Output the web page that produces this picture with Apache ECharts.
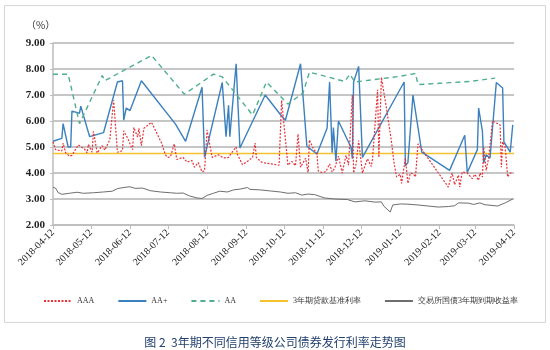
<!DOCTYPE html>
<html>
<head>
<meta charset="utf-8">
<script src="https://cdn.jsdelivr.net/npm/echarts@6/dist/echarts.min.js"></script>
<style>
html, body { margin: 0; padding: 0; background: #fff; }
#chart { width: 550px; height: 350px; }
</style>
</head>
<body>
<div id="chart"></div>
<script>
// Monthly tick dates on the x axis
const tickDates = ['2018-04-12', '2018-05-12', '2018-06-12', '2018-07-12', '2018-08-12', '2018-09-12',
  '2018-10-12', '2018-11-12', '2018-12-12', '2019-01-12', '2019-02-12', '2019-03-12', '2019-04-12'];

// Y axis range (%)
const yMin = 2, yMax = 9, yStep = 1;

// AAA issuance rate (%)
const rateAAA = [
  ['2018-04-12', 5.20], ['2018-04-14', 4.90], ['2018-04-19', 4.85], ['2018-04-20', 5.15], ['2018-04-22', 4.78],
  ['2018-04-25', 4.65], ['2018-04-27', 4.68], ['2018-05-02', 5.08], ['2018-05-07', 4.92], ['2018-05-09', 4.77],
  ['2018-05-10', 5.10], ['2018-05-13', 4.80], ['2018-05-14', 5.60], ['2018-05-17', 4.77], ['2018-05-21', 5.05],
  ['2018-05-23', 4.88], ['2018-05-27', 5.28], ['2018-05-30', 6.80], ['2018-06-02', 4.80], ['2018-06-06', 4.86],
  ['2018-06-07', 5.62], ['2018-06-10', 5.35], ['2018-06-13', 5.00], ['2018-06-14', 4.90], ['2018-06-15', 5.75],
  ['2018-06-18', 5.38], ['2018-06-19', 5.72], ['2018-06-21', 5.05], ['2018-06-23', 5.72], ['2018-06-29', 5.95],
  ['2018-07-03', 5.55], ['2018-07-07', 5.15], ['2018-07-10', 4.70], ['2018-07-12', 4.60], ['2018-07-14', 4.62],
  ['2018-07-17', 5.12], ['2018-07-19', 4.52], ['2018-07-24', 4.60], ['2018-07-27', 4.42], ['2018-07-31', 4.48],
  ['2018-08-02', 4.22], ['2018-08-05', 4.40], ['2018-08-08', 4.05], ['2018-08-10', 4.08], ['2018-08-12', 5.65],
  ['2018-08-16', 4.60], ['2018-08-21', 4.70], ['2018-08-25', 4.58], ['2018-08-29', 4.60], ['2018-08-31', 4.75],
  ['2018-09-04', 5.00], ['2018-09-05', 4.72], ['2018-09-09', 4.32], ['2018-09-13', 4.45], ['2018-09-17', 4.60],
  ['2018-09-19', 5.15], ['2018-09-20', 4.60], ['2018-09-24', 4.42], ['2018-09-27', 4.38], ['2018-10-02', 4.35],
  ['2018-10-08', 4.30], ['2018-10-10', 6.80], ['2018-10-15', 4.30], ['2018-10-18', 4.45], ['2018-10-21', 4.28],
  ['2018-10-23', 5.50], ['2018-10-25', 4.22], ['2018-10-29', 4.57], ['2018-10-31', 4.02], ['2018-11-01', 5.27],
  ['2018-11-04', 4.95], ['2018-11-07', 4.75], ['2018-11-08', 4.08], ['2018-11-11', 4.02], ['2018-11-14', 4.05],
  ['2018-11-17', 4.35], ['2018-11-19', 4.04], ['2018-11-21', 4.18], ['2018-11-24', 4.65], ['2018-11-27', 4.00],
  ['2018-11-30', 4.68], ['2018-12-02', 4.30], ['2018-12-05', 7.00], ['2018-12-06', 4.00], ['2018-12-08', 4.35],
  ['2018-12-10', 5.25], ['2018-12-13', 4.00], ['2018-12-17', 4.55], ['2018-12-20', 4.25], ['2018-12-21', 4.55],
  ['2018-12-25', 7.20], ['2018-12-26', 4.60], ['2018-12-28', 7.68], ['2019-01-01', 6.50], ['2019-01-05', 5.20],
  ['2019-01-07', 4.40], ['2019-01-09', 3.85], ['2019-01-12', 3.95], ['2019-01-13', 3.60], ['2019-01-16', 4.57],
  ['2019-01-18', 3.60], ['2019-01-20', 4.00], ['2019-01-22', 3.98], ['2019-01-24', 3.85], ['2019-01-26', 5.12],
  ['2019-02-01', 4.70], ['2019-02-19', 3.46], ['2019-02-22', 4.00], ['2019-02-24', 3.55], ['2019-02-27', 3.92],
  ['2019-02-28', 3.46], ['2019-03-02', 4.04], ['2019-03-06', 4.00], ['2019-03-07', 4.05], ['2019-03-10', 3.78],
  ['2019-03-12', 3.95], ['2019-03-15', 3.72], ['2019-03-16', 4.00], ['2019-03-18', 3.85], ['2019-03-19', 5.00],
  ['2019-03-21', 4.10], ['2019-03-23', 4.60], ['2019-03-26', 6.00], ['2019-03-28', 5.95], ['2019-04-01', 5.85],
  ['2019-04-02', 4.22], ['2019-04-03', 5.20], ['2019-04-05', 5.00], ['2019-04-07', 3.85], ['2019-04-09', 4.00],
  ['2019-04-11', 4.00]
];

// AA+ issuance rate (%)
const rateAAplus = [
  ['2018-04-12', 5.22], ['2018-04-19', 5.33], ['2018-04-20', 5.90], ['2018-04-24', 5.00], ['2018-04-26', 5.00],
  ['2018-04-27', 6.38], ['2018-05-03', 6.30], ['2018-05-04', 6.57], ['2018-05-11', 5.40], ['2018-05-22', 5.55],
  ['2018-06-02', 7.50], ['2018-06-06', 7.55], ['2018-06-07', 6.03], ['2018-06-09', 6.50], ['2018-06-12', 6.40],
  ['2018-06-21', 7.55], ['2018-07-18', 5.88], ['2018-07-26', 5.22], ['2018-08-08', 7.30], ['2018-08-10', 4.60],
  ['2018-08-24', 7.48], ['2018-08-27', 5.40], ['2018-08-29', 6.60], ['2018-08-30', 5.40], ['2018-09-04', 8.20],
  ['2018-09-07', 4.96], ['2018-09-27', 7.00], ['2018-10-09', 6.25], ['2018-10-13', 6.03], ['2018-10-25', 8.20],
  ['2018-10-30', 5.03], ['2018-11-07', 4.73], ['2018-11-15', 5.72], ['2018-11-17', 7.50], ['2018-11-19', 4.78],
  ['2018-11-20', 5.75], ['2018-11-22', 4.45], ['2018-11-24', 6.00], ['2018-12-04', 4.98], ['2018-12-05', 4.55],
  ['2018-12-06', 7.50], ['2018-12-10', 8.10], ['2018-12-13', 4.60], ['2019-01-15', 7.50], ['2019-01-16', 4.28],
  ['2019-01-18', 4.40], ['2019-01-22', 7.00], ['2019-01-29', 4.80], ['2019-02-20', 4.10], ['2019-03-04', 5.45],
  ['2019-03-06', 4.02], ['2019-03-14', 4.90], ['2019-03-15', 6.50], ['2019-03-18', 5.60], ['2019-03-19', 4.38],
  ['2019-03-21', 4.70], ['2019-03-24', 4.57], ['2019-03-29', 7.48], ['2019-04-03', 7.27], ['2019-04-04', 5.20],
  ['2019-04-09', 4.80], ['2019-04-11', 5.85]
];

// AA issuance rate (%)
const rateAA = [
  ['2018-04-12', 7.80], ['2018-04-24', 7.80], ['2018-05-03', 5.90], ['2018-05-21', 7.75], ['2018-05-23', 7.55],
  ['2018-06-29', 8.52], ['2018-07-25', 7.03], ['2018-08-17', 7.80], ['2018-08-24', 7.70], ['2018-09-17', 6.23],
  ['2018-09-28', 7.50], ['2018-10-15', 6.65], ['2018-10-27', 7.08], ['2018-11-01', 7.88], ['2018-11-29', 7.52],
  ['2018-12-03', 7.80], ['2018-12-07', 7.50], ['2019-01-12', 7.72], ['2019-01-24', 7.83], ['2019-01-26', 7.40],
  ['2019-02-12', 7.45], ['2019-03-08', 7.52], ['2019-03-28', 7.65]
];

// 3-year benchmark lending rate (%)
const loanRate = [['2018-04-12', 4.75], ['2019-04-12', 4.75]];

// Exchange-traded 3-year treasury yield (%)
const treasuryYield = [
  ['2018-04-12', 3.45], ['2018-04-14', 3.42], ['2018-04-16', 3.25], ['2018-04-19', 3.18], ['2018-04-25', 3.22],
  ['2018-05-01', 3.26], ['2018-05-06', 3.22], ['2018-05-14', 3.24], ['2018-05-22', 3.27], ['2018-05-29', 3.30],
  ['2018-06-02', 3.40], ['2018-06-08', 3.45], ['2018-06-12', 3.47], ['2018-06-16', 3.41], ['2018-06-22', 3.42],
  ['2018-06-28', 3.32], ['2018-07-06', 3.27], ['2018-07-14', 3.24], ['2018-07-19', 3.22], ['2018-07-24', 3.23],
  ['2018-07-29', 3.12], ['2018-08-04', 3.04], ['2018-08-08', 3.02], ['2018-08-12', 3.14], ['2018-08-17', 3.22],
  ['2018-08-22', 3.30], ['2018-08-28', 3.27], ['2018-09-02', 3.35], ['2018-09-07', 3.38], ['2018-09-13', 3.44],
  ['2018-09-15', 3.37], ['2018-09-23', 3.35], ['2018-10-01', 3.31], ['2018-10-09', 3.27], ['2018-10-15', 3.22],
  ['2018-10-21', 3.24], ['2018-10-26', 3.15], ['2018-10-31', 3.19], ['2018-11-05', 3.17], ['2018-11-13', 3.04],
  ['2018-11-21', 3.00], ['2018-12-01', 2.98], ['2018-12-07', 2.89], ['2018-12-15', 2.93], ['2018-12-23', 2.88],
  ['2018-12-28', 2.89], ['2018-12-30', 2.72], ['2019-01-04', 2.50], ['2019-01-06', 2.77], ['2019-01-12', 2.81],
  ['2019-01-18', 2.80], ['2019-01-26', 2.77], ['2019-02-03', 2.73], ['2019-02-11', 2.69], ['2019-02-19', 2.71],
  ['2019-02-24', 2.74], ['2019-02-27', 2.85], ['2019-03-07', 2.84], ['2019-03-11', 2.79], ['2019-03-16', 2.85],
  ['2019-03-20', 2.78], ['2019-03-30', 2.73], ['2019-04-05', 2.85], ['2019-04-11', 3.00]
];

const seriesNames = ['AAA', 'AA+', 'AA', '3年期贷款基准利率', '交易所国债3年期到期收益率'];
const caption = '图 2  3年期不同信用等级公司债券发行利率走势图';

// Date helpers (UTC so ticks fall exactly on the given days)
function toTime(s) {
  const p = s.split('-').map(Number);
  return Date.UTC(p[0], p[1] - 1, p[2]);
}
function formatDate(t) {
  const d = new Date(t);
  const pad = n => String(n).padStart(2, '0');
  return d.getUTCFullYear() + '-' + pad(d.getUTCMonth() + 1) + '-' + pad(d.getUTCDate());
}
const toPoints = arr => arr.map(p => [toTime(p[0]), p[1]]);
const tickTimes = tickDates.map(toTime);

const serif = "'Liberation Serif', 'DejaVu Serif', serif";

const chart = echarts.init(document.getElementById('chart'), null, { renderer: 'canvas' });
chart.setOption({
  animation: false,
  backgroundColor: '#fff',
  title: {
    text: caption,
    left: 'center',
    top: 331,
    textStyle: { fontSize: 12, fontWeight: 'normal', color: '#22406f', fontFamily: 'Noto Sans CJK SC' }
  },
  graphic: [
    {
      type: 'rect',
      shape: { x: 4.5, y: 5.5, width: 541, height: 317 },
      style: { fill: 'none', stroke: '#d6d6d6', lineWidth: 1 },
      silent: true
    },
    {
      type: 'text',
      left: 26,
      top: 20,
      style: { text: '（%）', fontSize: 10, fill: '#333', fontFamily: 'Noto Sans CJK SC' }
    }
  ],
  legend: {
    left: 38,
    top: 292,
    width: 505,
    itemWidth: 28,
    itemHeight: 8,
    itemGap: 23,
    itemStyle: { opacity: 0 },
    textStyle: { fontSize: 8, color: '#333', fontFamily: serif },
    data: seriesNames
  },
  grid: { left: 53, right: 36, top: 43, bottom: 125, containLabel: false },
  xAxis: {
    type: 'value',
    min: tickTimes[0],
    max: tickTimes[tickTimes.length - 1],
    axisLine: { show: true, lineStyle: { color: '#bdbdbd', width: 1.5 } },
    axisTick: { show: true, length: 4, customValues: tickTimes, lineStyle: { color: '#bdbdbd' } },
    axisLabel: {
      customValues: tickTimes,
      formatter: v => formatDate(v),
      rotate: 45,
      fontSize: 10,
      color: '#222',
      fontFamily: serif,
      margin: 6
    },
    splitLine: { show: false }
  },
  yAxis: {
    type: 'value',
    min: yMin,
    max: yMax,
    interval: yStep,
    axisLine: { show: true, lineStyle: { color: '#bdbdbd', width: 1.5 } },
    axisTick: { show: true, length: 3, lineStyle: { color: '#bdbdbd' } },
    axisLabel: {
      formatter: v => v.toFixed(2),
      fontSize: 11,
      fontWeight: 'bold',
      color: '#222',
      fontFamily: serif,
      margin: 8
    },
    splitLine: { show: true, lineStyle: { color: '#c6c6c6', width: 2 } }
  },
  series: [
    {
      name: seriesNames[0], type: 'line', data: toPoints(rateAAA), symbol: 'none',
      lineStyle: { color: '#e8333b', width: 1.2, type: [2, 1.5] }, itemStyle: { color: '#e8333b' }, z: 3
    },
    {
      name: seriesNames[1], type: 'line', data: toPoints(rateAAplus), symbol: 'none',
      lineStyle: { color: '#3b80bf', width: 1.4 }, itemStyle: { color: '#3b80bf' }, z: 2
    },
    {
      name: seriesNames[2], type: 'line', data: toPoints(rateAA), symbol: 'none',
      lineStyle: { color: '#4fae8c', width: 1.4, type: [5, 4] }, itemStyle: { color: '#4fae8c' }, z: 2
    },
    {
      name: seriesNames[3], type: 'line', data: toPoints(loanRate), symbol: 'none',
      lineStyle: { color: '#f5c12e', width: 1.4 }, itemStyle: { color: '#f5c12e' }, z: 1
    },
    {
      name: seriesNames[4], type: 'line', data: toPoints(treasuryYield), symbol: 'none',
      lineStyle: { color: '#6e6e6e', width: 1 }, itemStyle: { color: '#6e6e6e' }, z: 2
    }
  ]
});
</script>
</body>
</html>
